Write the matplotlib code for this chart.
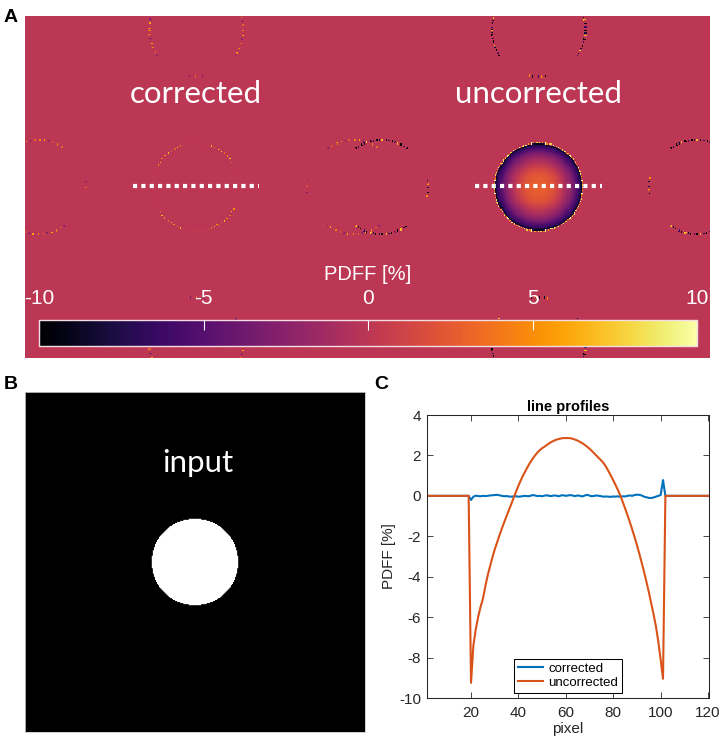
import numpy as np
import matplotlib
matplotlib.use("Agg")
import matplotlib.pyplot as plt


# [0] Line profile data
pixel = np.arange(1, 121)

uncorrected = np.array(
    [0.0] * 19
    + [-9.25, -7.4, -6.6, -6.0, -5.5, -5.1, -4.5, -3.95, -3.5, -3.05,
       -2.65, -2.3, -1.95, -1.62, -1.3, -1.0, -0.7, -0.4, -0.09, 0.21,
       0.5, 0.77, 1.02, 1.24, 1.46, 1.66, 1.84, 2.0, 2.14, 2.26,
       2.36, 2.43, 2.52, 2.6, 2.67, 2.73, 2.78, 2.81, 2.84, 2.86,
       2.86, 2.86, 2.85, 2.82, 2.78, 2.73, 2.67, 2.6, 2.52, 2.43,
       2.33, 2.22, 2.1, 1.98, 1.86, 1.74, 1.61, 1.43, 1.22, 1.0,
       0.77, 0.53, 0.28, 0.02, -0.3, -0.62, -0.95, -1.3, -1.66, -2.04,
       -2.44, -2.86, -3.3, -3.76, -4.25, -4.75, -5.3, -5.85, -6.45, -7.2,
       -8.1, -9.05]
    + [0.0] * 19
)

corrected = np.array(
    [0.0] * 19
    + [-0.2, -0.04, 0.01, -0.01, -0.02, 0.0, -0.01, 0.0, 0.02, 0.03,
       0.04, 0.05, 0.03, 0.0, -0.02, -0.01, -0.03, -0.04, -0.03, -0.02,
       -0.04, -0.03, -0.01, 0.0, -0.02, 0.0, 0.04, 0.02, -0.01, 0.0,
       -0.02, 0.01, 0.03, 0.0, -0.01, 0.02, 0.01, -0.02, 0.02, 0.03,
       0.0, 0.02, 0.04, 0.01, -0.01, 0.02, 0.0, -0.03, 0.02, 0.05,
       0.01, -0.02, 0.0, 0.02, 0.0, -0.02, -0.04, -0.03, -0.04, -0.05,
       -0.03, -0.04, -0.02, -0.05, -0.02, -0.03, 0.0, 0.02, 0.0, 0.04,
       0.06, 0.05, 0.02, -0.04, -0.07, -0.1, -0.11, -0.08, -0.04, 0.0,
       0.04, 0.78]
    + [0.0] * 19
)

SERIES = [
    ("corrected", corrected, "#0072BD"),
    ("uncorrected", uncorrected, "#D95319"),
]

CBAR_TICKS = [-10, -5, 0, 5, 10]
PANEL_TITLES = ["corrected", "uncorrected"]


# [1] Phantom geometry (image pixels)
TILE = 322
CENTER = 160.5
RADIUS = 41.0
PROFILE_CENTER = 60.6
GHOST_SHIFT = 148.0
GHOST_RADIUS = 44.0

# speckle levels cycled along the rings, per tile
RIM_LEVELS = [[0.3, 0.0, 0.4, 0.1], [9.0, 0.0, 6.0, 0.0, 10.0, 4.0, 0.0, 8.0, 0.0]]
EDGE_SPOTS = [[5.0, 0.0, 0.0, 7.0, 0.0, 0.0, 3.5, 0.0, 0.0, 0.0], [0.0]]
ARM_LEVELS = [
    [4.5, 0.0, 0.0, 0.0, 6.0, 0.0, 0.0, -3.0, 0.0, 0.0, 3.0, 0.0, 0.0, 0.0],
    [-10.0, 0.0, -8.0, 0.0, 7.0, 0.0, 0.0, -10.0, 0.0, -6.0, 0.0, 0.0],
]
TIP_LEVELS = [
    [3.0, 0.0, 0.0, 0.0, 0.0, -3.0, 0.0, 0.0, 0.0, 0.0],
    [-8.0, 0.0, 0.0, 0.0, -9.0, 0.0, 0.0, 5.0, 0.0, 0.0],
]


def ang_diff(a, b):
    return np.abs((a - b + np.pi) % (2 * np.pi) - np.pi)


def cycle(levels, phi, step_deg):
    idx = np.floor(np.degrees(phi) / step_deg).astype(int) % len(levels)
    return np.asarray(levels)[idx]


def build_pdff_map():
    rows, cols = np.mgrid[0:TILE, 0:2 * TILE].astype(float)
    img = np.zeros(rows.shape)

    for t in range(2):
        cx = CENTER + t * TILE
        cy = CENTER
        r = np.hypot(cols - cx, rows - cy)
        phi = np.arctan2(rows - cy, cols - cx)

        # ghost replicas of the circle
        for dx, dy in [(1, 0), (-1, 0), (0, 1), (0, -1)]:
            gx = cx + dx * GHOST_SHIFT
            gy = cy + dy * GHOST_SHIFT
            d = np.hypot(cols - gx, rows - gy)
            gphi = np.arctan2(rows - gy, cols - gx)
            toward = np.arctan2(-dy, -dx)
            ring = np.abs(d - GHOST_RADIUS) < 0.9
            perp = np.minimum(ang_diff(gphi, toward + np.pi / 2),
                              ang_diff(gphi, toward - np.pi / 2))
            arms = ring & (perp < np.radians(34))
            tip = ring & (ang_diff(gphi, toward) < np.radians(12))
            img[arms] = cycle(ARM_LEVELS[t], gphi, 1.6)[arms]
            img[tip] = cycle(TIP_LEVELS[t], gphi, 1.5)[tip]

        inside = r <= RADIUS
        rim = (r > RADIUS - 0.6) & (r < RADIUS + 1.2)
        if t == 1:
            img[inside] = np.interp(PROFILE_CENTER - r[inside], pixel, uncorrected)
            img[rim & ~inside] = cycle(RIM_LEVELS[t], phi, 2.0)[rim & ~inside]
        else:
            img[inside] = 0.0
            img[rim] = cycle(RIM_LEVELS[t], phi, 3.0)[rim]
            diag = np.minimum.reduce([ang_diff(phi, np.radians(a)) for a in (50, 130, -50, -130)])
            spots = rim & (diag < np.radians(20))
            img[spots] = cycle(EDGE_SPOTS[t], phi, 1.5)[spots]
    return img


def build_input_map():
    rows, cols = np.mgrid[0:TILE, 0:TILE].astype(float)
    return (np.hypot(cols - CENTER, rows - CENTER) <= RADIUS).astype(float)


# [2] Figure
plt.rcParams["axes.unicode_minus"] = False
plt.rcParams["font.family"] = ["Liberation Sans", "DejaVu Sans"]

fig = plt.figure(figsize=(7.2, 7.4), dpi=100)
W, H = 720.0, 740.0


def fig_rect(x0, y0, x1, y1):
    return [x0 / W, 1 - y1 / H, (x1 - x0) / W, (y1 - y0) / H]


# Panel A
ax_a = fig.add_axes(fig_rect(25, 16, 710, 358))
im = ax_a.imshow(build_pdff_map(), cmap="inferno", vmin=-10, vmax=10,
                 interpolation="nearest", aspect="auto")
ax_a.set_axis_off()

for t, title in enumerate(PANEL_TITLES):
    cx = CENTER + t * TILE
    ax_a.text(cx, 81, title, color="white", fontsize=22.5, family="Lato",
              ha="center", va="baseline")
    line_cols = pixel[[0, -1]] + (cx - PROFILE_CENTER)
    ax_a.plot(line_cols, [CENTER - 1, CENTER - 1], color="white", lw=3,
              linestyle=(0, (1, 1)), dash_capstyle="butt")

cax = fig.add_axes(fig_rect(39, 320, 697, 346))
cb = fig.colorbar(im, cax=cax, orientation="horizontal", ticks=CBAR_TICKS)
cax.xaxis.set_ticks_position("top")
cax.tick_params(direction="in", color="white", labelcolor="white",
                length=7, width=0.8, labelsize=15, pad=9)
cb.outline.set_edgecolor("#f4dde3")
cb.outline.set_linewidth(1.0)
fig.text(368 / W, 1 - 275 / H, "PDFF [%]", color="white", fontsize=14.5,
         ha="center", va="center")

# Panel B
ax_b = fig.add_axes(fig_rect(25, 392, 365, 732))
ax_b.imshow(build_input_map(), cmap="gray", vmin=0, vmax=1,
            interpolation="antialiased", aspect="auto")
ax_b.set_xticks([])
ax_b.set_yticks([])
for spine in ax_b.spines.values():
    spine.set_color("#c8c8c8")
    spine.set_linewidth(0.6)
ax_b.text(CENTER + 3, 75, "input", color="white", fontsize=22.5, family="Lato",
          ha="center", va="baseline")

# Panel C
ax_c = fig.add_axes(fig_rect(426.7, 415, 709, 698))
for label, values, color in SERIES:
    ax_c.plot(pixel, values, color=color, lw=1.5, label=label)
ax_c.set_xlim(1.3, 120.4)
ax_c.set_ylim(-10, 4)
ax_c.set_xticks([20, 40, 60, 80, 100, 120])
ax_c.set_yticks(np.arange(-10, 5, 2))
ax_c.tick_params(direction="in", length=4, width=0.6, colors="#262626",
                 labelsize=11, top=True, right=True, pad=4)
ax_c.tick_params(axis="x", pad=6)
for spine in ax_c.spines.values():
    spine.set_color("#262626")
    spine.set_linewidth(0.75)
ax_c.set_title("line profiles", fontsize=10.5, fontweight="bold",
               color="black", pad=3)
ax_c.set_xlabel("pixel", fontsize=11, color="#262626", labelpad=1)
ax_c.set_ylabel("PDFF [%]", fontsize=11, color="#262626", labelpad=2)
leg = ax_c.legend(loc="lower center", bbox_to_anchor=(0.5, 0.018),
                  fontsize=9.5, fancybox=False, edgecolor="black",
                  framealpha=1, borderpad=0.3, labelspacing=0.15,
                  handlelength=1.9, handletextpad=0.4, borderaxespad=0)
leg.get_frame().set_linewidth(0.75)

# Panel letters
for letter, (x, y) in {"A": (4, 22), "B": (4, 389), "C": (374, 389)}.items():
    fig.text(x / W, 1 - y / H, letter, fontsize=14, fontweight="bold",
             ha="left", va="baseline")

fig.savefig("out.png", dpi=100)
